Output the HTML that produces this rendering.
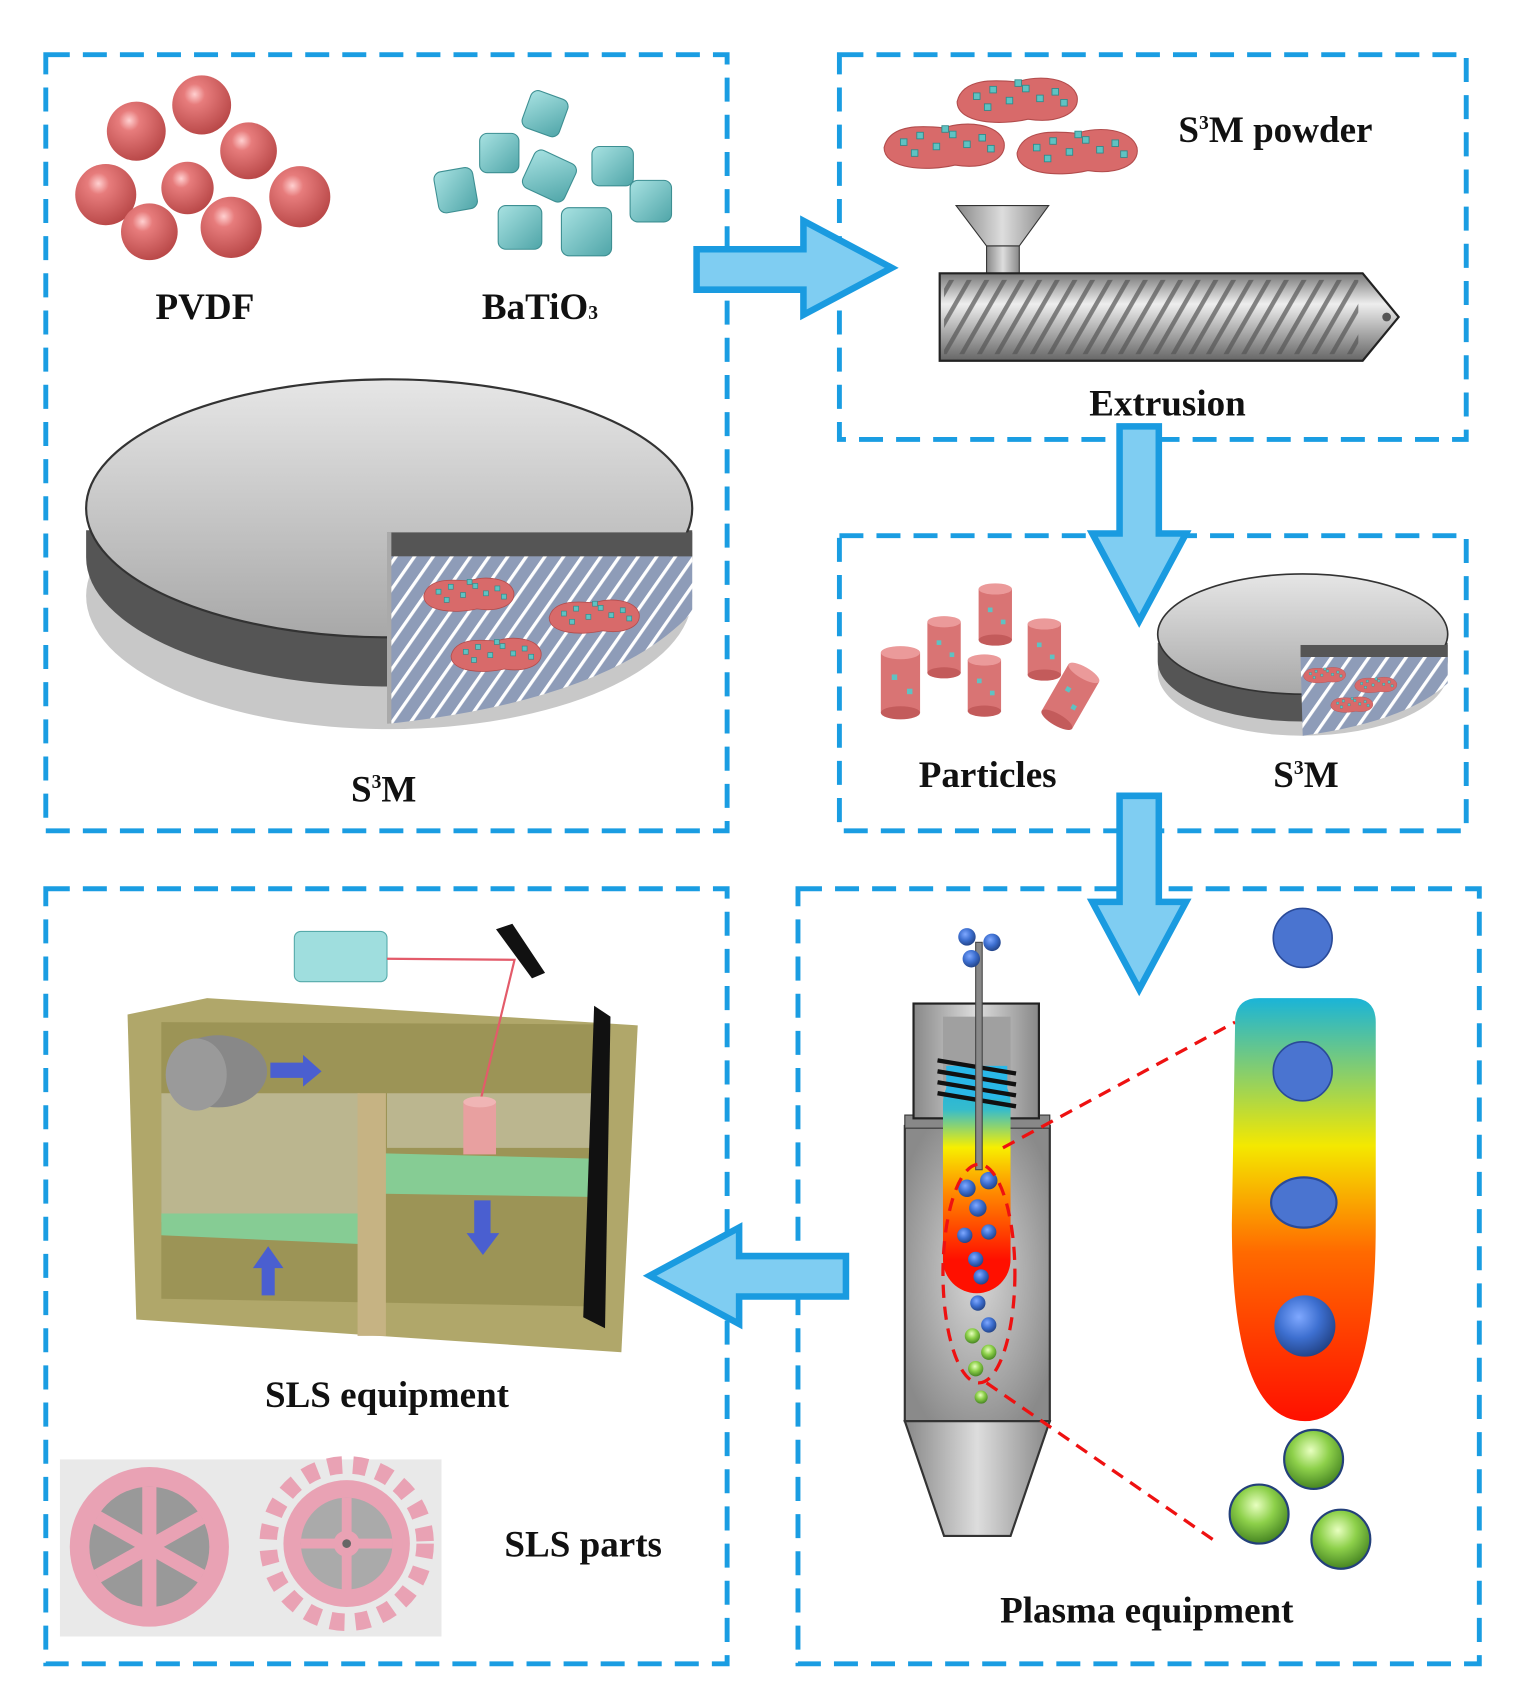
<!DOCTYPE html>
<html><head><meta charset="utf-8"><style>
html,body{margin:0;padding:0;background:#fff;}
svg{display:block;}
text{font-family:"Liberation Serif",serif;font-weight:bold;fill:#111;}
</style></head><body>
<svg width="1536" height="1701" viewBox="0 0 1409 1556" preserveAspectRatio="none" xmlns="http://www.w3.org/2000/svg">
<defs>
<radialGradient id="red" cx="0.38" cy="0.32" r="0.7"><stop offset="0" stop-color="#ffd0d0"/><stop offset="0.25" stop-color="#e77c7c"/><stop offset="1" stop-color="#b94848"/></radialGradient>
<linearGradient id="cube" x1="0" y1="0" x2="1" y2="1"><stop offset="0" stop-color="#a8e2e2"/><stop offset="1" stop-color="#4fa5a8"/></linearGradient>
<linearGradient id="disk" x1="0" y1="0" x2="0" y2="1"><stop offset="0" stop-color="#e6e6e6"/><stop offset="1" stop-color="#a8a8a8"/></linearGradient>
<linearGradient id="metal" x1="0" y1="0" x2="0" y2="1"><stop offset="0" stop-color="#777"/><stop offset="0.35" stop-color="#eee"/><stop offset="1" stop-color="#666"/></linearGradient>
<linearGradient id="metalh" x1="0" y1="0" x2="1" y2="0"><stop offset="0" stop-color="#888"/><stop offset="0.5" stop-color="#ddd"/><stop offset="1" stop-color="#888"/></linearGradient>
<linearGradient id="flame" x1="0" y1="0" x2="0" y2="1"><stop offset="0" stop-color="#14acec"/><stop offset="0.18" stop-color="#36bccc"/><stop offset="0.35" stop-color="#f7ef00"/><stop offset="0.55" stop-color="#ff8a00"/><stop offset="0.85" stop-color="#ff1000"/></linearGradient>
<linearGradient id="flame2" x1="0" y1="0" x2="0" y2="1"><stop offset="0" stop-color="#1ab4d8"/><stop offset="0.35" stop-color="#f4e800"/><stop offset="0.6" stop-color="#ff6a00"/><stop offset="1" stop-color="#ff1000"/></linearGradient>
<radialGradient id="blue" cx="0.4" cy="0.35" r="0.7"><stop offset="0" stop-color="#7fa8ff"/><stop offset="0.5" stop-color="#3d6fd0"/><stop offset="1" stop-color="#203f80"/></radialGradient>
<radialGradient id="green" cx="0.45" cy="0.35" r="0.7"><stop offset="0" stop-color="#e8ffc0"/><stop offset="0.45" stop-color="#8dd04a"/><stop offset="1" stop-color="#3c7a1c"/></radialGradient>
<radialGradient id="gray" cx="0.5" cy="0.5" r="0.6"><stop offset="0" stop-color="#d8d8d8"/><stop offset="1" stop-color="#8a8a8a"/></radialGradient>
<pattern id="stripe" width="14" height="14" patternUnits="userSpaceOnUse" patternTransform="rotate(35)"><rect width="14" height="14" fill="#8e9cb8"/><rect width="3" height="14" fill="#fff"/></pattern>
<pattern id="screw" width="14" height="14" patternUnits="userSpaceOnUse" patternTransform="rotate(30)"><rect width="14" height="14" fill="none"/><rect width="4" height="14" fill="#555" opacity="0.7"/></pattern>
<g id="blob"><path d="M-55,0 C-50,-22 -20,-20 0,-18 C20,-25 50,-22 55,-5 C58,12 35,20 10,16 C-15,22 -55,20 -55,0Z" fill="#d86a6a" stroke="#b24c4c"/><g fill="#5fc2c2" stroke="#2f8a8a" stroke-width="0.8"><rect x="-40" y="-8" width="6" height="6"/><rect x="-25" y="-14" width="6" height="6"/><rect x="-10" y="-4" width="6" height="6"/><rect x="5" y="-15" width="6" height="6"/><rect x="18" y="-6" width="6" height="6"/><rect x="32" y="-12" width="6" height="6"/><rect x="-30" y="2" width="6" height="6"/><rect x="40" y="-2" width="6" height="6"/><rect x="-2" y="-20" width="6" height="6"/></g></g>
<g id="cyl"><rect x="-18" y="-25" width="36" height="55" fill="#d97474"/><ellipse cx="0" cy="-25" rx="18" ry="6" fill="#eb9a9a"/><ellipse cx="0" cy="30" rx="18" ry="6" fill="#c35b5b"/><rect x="-8" y="-5" width="5" height="5" fill="#5fc2c2"/><rect x="6" y="8" width="5" height="5" fill="#5fc2c2"/></g>
</defs>
<g fill="none" stroke="#1a9de2" stroke-width="4.5" stroke-dasharray="22 12">
<rect x="42" y="50" width="625" height="710"/>
<rect x="770" y="50" width="575" height="352"/>
<rect x="770" y="490" width="575" height="270"/>
<rect x="42" y="813" width="625" height="709"/>
<rect x="732" y="813" width="625" height="709"/>
</g>
<!-- PVDF spheres -->
<g fill="url(#red)"><circle cx="125" cy="120" r="27"/><circle cx="185" cy="96" r="27"/><circle cx="228" cy="138" r="26"/><circle cx="172" cy="172" r="24"/><circle cx="97" cy="178" r="28"/><circle cx="137" cy="212" r="26"/><circle cx="212" cy="208" r="28"/><circle cx="275" cy="180" r="28"/></g>
<g fill="url(#cube)" stroke="#3d8f92" stroke-width="1">
<rect x="482" y="86" width="36" height="36" rx="7" transform="rotate(20 500 104)"/>
<rect x="440" y="122" width="36" height="36" rx="7"/><rect x="483" y="142" width="42" height="38" rx="7" transform="rotate(25 504 161)"/>
<rect x="543" y="134" width="38" height="36" rx="7"/><rect x="400" y="155" width="36" height="38" rx="7" transform="rotate(-10 418 174)"/>
<rect x="457" y="188" width="40" height="40" rx="7"/><rect x="515" y="190" width="46" height="44" rx="7"/><rect x="578" y="165" width="38" height="38" rx="7"/></g>
<text x="188" y="292" font-size="34" text-anchor="middle">PVDF</text>
<text x="442" y="292" font-size="34">BaTiO<tspan font-size="18">3</tspan></text>
<!-- big disk -->
<ellipse cx="357" cy="545" rx="278" ry="122" fill="#c8c8c8"/>
<path d="M79,485 L79,510 A278,118 0 0 0 635,510 L635,485Z" fill="#555"/>
<ellipse cx="357" cy="465" rx="278" ry="118" fill="url(#disk)" stroke="#333" stroke-width="2"/>
<rect x="355" y="487" width="280" height="22" fill="#555"/>
<path d="M355,509 L635,509 L635,560 Q560,640 357,662Z" fill="url(#stripe)"/>
<rect x="355" y="487" width="4" height="175" fill="#aaa"/>
<use href="#blob" transform="translate(430,545) scale(0.75)"/>
<use href="#blob" transform="translate(545,565) scale(0.75)"/>
<use href="#blob" transform="translate(455,600) scale(0.75)"/>
<text x="352" y="733" font-size="34" text-anchor="middle">S<tspan font-size="18" dy="-12">3</tspan><tspan dy="12">M</tspan></text>
<!-- arrow right -->
<path d="M639,228 L737,228 L737,202 L818,245 L737,288 L737,265 L639,265Z" fill="#7fcdf2" stroke="#1a9be0" stroke-width="6"/>
<!-- Box2 -->
<use href="#blob" transform="translate(933,93)"/><use href="#blob" transform="translate(866,135)"/><use href="#blob" transform="translate(988,140)"/>
<text x="1170" y="130" font-size="34" text-anchor="middle">S<tspan font-size="18" dy="-12">3</tspan><tspan dy="12">M powder</tspan></text>
<path d="M877,188 L962,188 L935,225 L905,225Z" fill="url(#metalh)" stroke="#333"/>
<rect x="905" y="225" width="30" height="26" fill="url(#metalh)" stroke="#333"/>
<path d="M862,250 L1250,250 L1283,290 L1250,330 L862,330Z" fill="url(#metal)" stroke="#222" stroke-width="2"/>
<rect x="866" y="256" width="380" height="68" fill="url(#screw)"/>
<circle cx="1272" cy="290" r="4" fill="#555"/>
<text x="1071" y="380" font-size="34" text-anchor="middle">Extrusion</text>
<!-- down arrow 1 -->
<path d="M1027,390 L1063,390 L1063,488 L1088,488 L1045,568 L1002,488 L1027,488Z" fill="#7fcdf2" stroke="#1a9be0" stroke-width="6"/>
<!-- Box3 -->
<use href="#cyl" transform="translate(826,622)"/><use href="#cyl" transform="translate(866,590) scale(0.85)"/><use href="#cyl" transform="translate(913,560) scale(0.85)"/><use href="#cyl" transform="translate(903,625) scale(0.85)"/><use href="#cyl" transform="translate(958,592) scale(0.85)"/><use href="#cyl" transform="translate(983,635) rotate(30) scale(0.9)"/>
<ellipse cx="1195" cy="615" rx="133" ry="58" fill="#c8c8c8"/>
<path d="M1062,588 L1062,605 A133,55 0 0 0 1328,605 L1328,588Z" fill="#555"/>
<ellipse cx="1195" cy="580" rx="133" ry="55" fill="url(#disk)" stroke="#333" stroke-width="1.5"/>
<rect x="1193" y="590" width="135" height="11" fill="#555"/>
<path d="M1193,601 L1328,601 L1328,625 Q1290,660 1195,673Z" fill="url(#stripe)"/>
<use href="#blob" transform="translate(1215,618) scale(0.35)"/><use href="#blob" transform="translate(1262,627) scale(0.35)"/><use href="#blob" transform="translate(1240,645) scale(0.35)"/>
<text x="906" y="720" font-size="34" text-anchor="middle">Particles</text>
<text x="1198" y="720" font-size="34" text-anchor="middle">S<tspan font-size="18" dy="-12">3</tspan><tspan dy="12">M</tspan></text>
<!-- down arrow 2 -->
<path d="M1027,728 L1063,728 L1063,825 L1088,825 L1045,905 L1002,825 L1027,825Z" fill="#7fcdf2" stroke="#1a9be0" stroke-width="6"/>
<!-- Plasma torch -->
<rect x="830" y="1030" width="133" height="270" fill="url(#gray)" stroke="#333" stroke-width="2"/>
<rect x="830" y="1020" width="133" height="12" fill="#888" stroke="#333"/>
<rect x="838" y="918" width="115" height="105" fill="url(#metalh)" stroke="#222" stroke-width="2"/>
<path d="M830,1300 L963,1300 L927,1405 L866,1405Z" fill="url(#metalh)" stroke="#333" stroke-width="2"/>
<rect x="865" y="978" width="62" height="205" rx="31" fill="url(#flame)"/>
<rect x="865" y="930" width="62" height="60" fill="#a0a0a0"/>
<rect x="868" y="975" width="56" height="30" fill="#2ab8e8"/>
<g stroke="#111" stroke-width="4"><line x1="860" y1="970" x2="932" y2="982"/><line x1="860" y1="980" x2="932" y2="992"/><line x1="860" y1="990" x2="932" y2="1002"/><line x1="860" y1="1000" x2="932" y2="1012"/></g>
<rect x="895" y="862" width="6" height="208" fill="#888" stroke="#444"/>
<g fill="url(#blue)"><circle cx="887" cy="857" r="8"/><circle cx="910" cy="862" r="8"/><circle cx="891" cy="877" r="8"/><circle cx="887" cy="1087" r="8"/><circle cx="907" cy="1080" r="8"/><circle cx="897" cy="1105" r="8"/><circle cx="885" cy="1130" r="7"/><circle cx="907" cy="1127" r="7"/><circle cx="895" cy="1152" r="7"/><circle cx="900" cy="1168" r="7"/><circle cx="897" cy="1192" r="7"/><circle cx="907" cy="1212" r="7"/></g>
<g fill="url(#green)"><circle cx="892" cy="1222" r="7"/><circle cx="907" cy="1237" r="7"/><circle cx="895" cy="1252" r="7"/><circle cx="900" cy="1278" r="6"/></g>
<g fill="none" stroke="#ee1111" stroke-width="3" stroke-dasharray="12 8"><ellipse cx="898" cy="1165" rx="33" ry="100"/><line x1="920" y1="1050" x2="1133" y2="935"/><line x1="905" y1="1265" x2="1115" y2="1410"/></g>
<path d="M1133,935 Q1133,913 1155,913 L1240,913 Q1262,913 1262,935 L1262,1120 Q1262,1300 1197,1300 Q1130,1300 1130,1120Z" fill="url(#flame2)"/>
<g fill="#4a74d0" stroke="#2a4a98" stroke-width="1.5"><circle cx="1195" cy="858" r="27"/><circle cx="1195" cy="980" r="27"/></g>
<ellipse cx="1196" cy="1100" rx="30" ry="23" fill="#4a74d0" stroke="#2a4a98" stroke-width="2"/>
<circle cx="1197" cy="1213" r="28" fill="url(#blue)"/>
<circle cx="1205" cy="1335" r="27" fill="url(#green)" stroke="#23407a" stroke-width="2"/>
<circle cx="1155" cy="1385" r="27" fill="url(#green)" stroke="#23407a" stroke-width="2"/>
<circle cx="1230" cy="1408" r="27" fill="url(#green)" stroke="#23407a" stroke-width="2"/>
<text x="1052" y="1484" font-size="34" text-anchor="middle">Plasma equipment</text>
<!-- left arrow -->
<path d="M776,1149 L678,1149 L678,1123 L596,1167 L678,1211 L678,1186 L776,1186Z" fill="#7fcdf2" stroke="#1a9be0" stroke-width="6"/>
<!-- SLS machine -->
<path d="M117,928 L190,913 L585,938 L570,1237 L125,1207Z" fill="#b0a76a"/>
<path d="M148,935 L545,937 L540,1195 L148,1188Z" fill="#9c9456"/>
<path d="M148,1000 L330,1000 L330,1120 L148,1118Z" fill="#c9c4a8" opacity="0.7"/>
<path d="M355,1000 L548,1000 L548,1050 L355,1050Z" fill="#c9c4a8" opacity="0.7"/>
<path d="M148,1110 L330,1110 L330,1138 L148,1130Z" fill="#86cc94"/>
<path d="M353,1055 L548,1060 L548,1095 L353,1092Z" fill="#86cc94"/>
<rect x="328" y="1000" width="26" height="222" fill="#c6b383"/>
<path d="M545,920 L560,930 L555,1215 L535,1205Z" fill="#111"/>
<ellipse cx="200" cy="980" rx="45" ry="33" fill="#888"/>
<ellipse cx="180" cy="983" rx="28" ry="33" fill="#9a9a9a"/>
<path d="M248,972 L278,972 L278,965 L295,980 L278,994 L278,986 L248,986Z" fill="#4a5fd0"/>
<path d="M435,1098 L450,1098 L450,1128 L458,1128 L443,1148 L428,1128 L435,1128Z" fill="#4a5fd0"/>
<path d="M240,1185 L252,1185 L252,1160 L260,1160 L246,1140 L232,1160 L240,1160Z" fill="#4a5fd0"/>
<rect x="270" y="852" width="85" height="46" rx="6" fill="#9fdede" stroke="#5aa" />
<path d="M455,850 L470,845 L500,890 L488,895Z" fill="#111"/>
<polyline points="355,877 472,878 440,1010" fill="none" stroke="#e35b6a" stroke-width="2"/>
<rect x="425" y="1008" width="30" height="48" fill="#e8a0a0"/>
<ellipse cx="440" cy="1008" rx="15" ry="5" fill="#f0b5b5"/>
<text x="355" y="1287" font-size="34" text-anchor="middle">SLS equipment</text>
<rect x="55" y="1335" width="350" height="162" fill="#e9e9e9"/>
<circle cx="137" cy="1415" r="73" fill="#e9a2b4"/>
<circle cx="137" cy="1415" r="55" fill="#999"/>
<g stroke="#e9a2b4" stroke-width="13"><line x1="137" y1="1360" x2="137" y2="1470"/><line x1="89" y1="1388" x2="185" y2="1442"/><line x1="89" y1="1442" x2="185" y2="1388"/></g>
<circle cx="318" cy="1412" r="72" fill="none" stroke="#e9a2b4" stroke-width="16" stroke-dasharray="13 10"/>
<circle cx="318" cy="1412" r="58" fill="#e9a2b4"/>
<circle cx="318" cy="1412" r="42" fill="#aaa"/>
<g stroke="#e9a2b4" stroke-width="9"><line x1="318" y1="1370" x2="318" y2="1454"/><line x1="276" y1="1412" x2="360" y2="1412"/></g>
<circle cx="318" cy="1412" r="12" fill="#e9a2b4"/><circle cx="318" cy="1412" r="4" fill="#666"/>
<text x="535" y="1424" font-size="34" text-anchor="middle">SLS parts</text>
</svg>
</body></html>
